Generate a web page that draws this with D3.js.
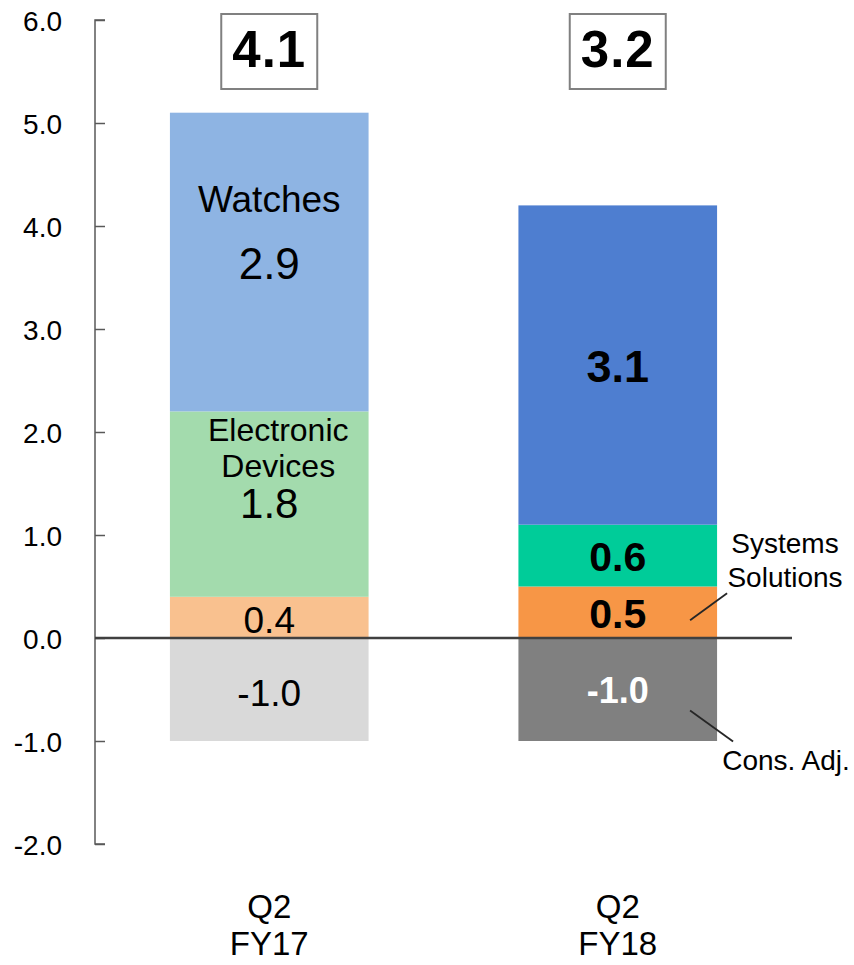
<!DOCTYPE html>
<html>
<head>
<meta charset="utf-8">
<script src="https://cdn.jsdelivr.net/npm/d3@7/dist/d3.min.js"></script>
<style>
  html, body { margin: 0; padding: 0; background: #fff; }
  svg { display: block; font-family: "Liberation Sans", Arial, sans-serif; }
</style>
</head>
<body>
<svg id="chart" width="854" height="965"></svg>
<script>
// Quarters shown on the x axis
const periods = ["Q2 FY17", "Q2 FY18"];
const periodLines = [["Q2", "FY17"], ["Q2", "FY18"]];

// Segment stack order from the bottom up (negative adjustment first)
const segments = ["Cons. Adj.", "Systems Solutions", "Electronic Devices", "Watches"];

// Operating income by segment, per quarter
const fy17Values = [-1.0, 0.4, 1.8, 2.9];
const fy18Values = [-1.0, 0.5, 0.6, 3.1];

// Totals shown in boxes above each bar
const totals = [4.1, 3.2];

// Y axis ticks
const yTicks = [-2, -1, 0, 1, 2, 3, 4, 5, 6];

// Fill colours for each segment, per quarter
const fy17Colors = ["#d9d9d9", "#f9c18f", "#a3dbad", "#8eb4e3"];
const fy18Colors = ["#808080", "#f79646", "#00cc99", "#4e7ed0"];

// One decimal, plain hyphen for negatives
const fmt = v => v.toFixed(1);

const svg = d3.select("#chart");

const y = d3.scaleLinear().domain([-2, 6]).range([844, 20]);
const x = d3.scaleBand().domain(periods).range([95, 792])
  .paddingInner(0.43).paddingOuter(0.215);

// Build stacked rectangles: positives stack upward from zero, negatives downward
function stackOf(values, colors, period, idx) {
  let pos = 0, neg = 0;
  return values.map((v, i) => {
    let y0, y1;
    if (v >= 0) { y0 = pos; y1 = pos + v; pos = y1; }
    else { y1 = neg; y0 = neg + v; neg = y0; }
    return { period, idx, seg: segments[i], i, value: v, y0, y1, color: colors[i] };
  });
}
const stacks = [
  stackOf(fy17Values, fy17Colors, periods[0], 0),
  stackOf(fy18Values, fy18Colors, periods[1], 1)
];
const rects = stacks.flat();

svg.append("g").selectAll("rect").data(rects).join("rect")
  .attr("x", d => x(d.period))
  .attr("width", x.bandwidth())
  .attr("y", d => y(d.y1))
  .attr("height", d => y(d.y0) - y(d.y1))
  .attr("fill", d => d.color);

// Y axis with ticks pointing into the plot
const yAxis = d3.axisRight(y).tickValues(yTicks).tickSize(10).tickFormat(fmt);
const ax = svg.append("g").attr("transform", "translate(95,0)").call(yAxis);
ax.select(".domain").attr("stroke", "#595959").attr("stroke-width", 1.5)
  .attr("d", `M10,${y(6)}H0V${y(-2)}H10`);
ax.selectAll(".tick line").attr("stroke", "#595959").attr("stroke-width", 1.5);
ax.selectAll(".tick text")
  .attr("x", -33).attr("text-anchor", "end")
  .attr("font-size", 28).attr("fill", "#000")
  .attr("font-family", "'Liberation Sans', Arial, sans-serif")
  .attr("dy", "0.36em");

// Zero baseline
svg.append("line")
  .attr("x1", 95).attr("x2", 792)
  .attr("y1", y(0)).attr("y2", y(0))
  .attr("stroke", "#404040").attr("stroke-width", 2.5);

// Value labels at the centre of each segment
const sizes17 = [37, 37, 42, 44];
const sizes18 = [36, 41, 41, 45];
const shift17 = [3, 2, -1, 1];
svg.append("g").selectAll("text").data(rects).join("text")
  .attr("x", d => x(d.period) + x.bandwidth() / 2)
  .attr("y", d => y((d.y0 + d.y1) / 2) + (d.idx === 0 ? shift17[d.i] : 1))
  .attr("dy", "0.36em")
  .attr("text-anchor", "middle")
  .attr("font-size", d => d.idx === 0 ? sizes17[d.i] : sizes18[d.i])
  .attr("font-weight", d => d.idx === 1 ? "bold" : "normal")
  .attr("fill", d => (d.idx === 1 && d.value < 0) ? "#fff" : "#000")
  .text(d => fmt(d.value));

// Segment names inside the FY17 bar
const c17 = x(periods[0]) + x.bandwidth() / 2;
const watches = stacks[0][3], devices = stacks[0][2];
svg.append("text").attr("x", c17).attr("y", y(watches.y1) + 99)
  .attr("text-anchor", "middle").attr("font-size", 37).text("Watches");
svg.append("text").attr("x", c17 + 9).attr("y", y(devices.y1) + 30)
  .attr("text-anchor", "middle").attr("font-size", 32).text("Electronic");
svg.append("text").attr("x", c17 + 9).attr("y", y(devices.y1) + 66)
  .attr("text-anchor", "middle").attr("font-size", 32).text("Devices");

// Callouts for the FY18 bar
const b18 = x(periods[1]) + x.bandwidth();
const ss = stacks[1][1], adj = stacks[1][0];
const ssY = y((ss.y0 + ss.y1) / 2);
svg.append("line").attr("x1", b18 - 27).attr("y1", ssY + 8)
  .attr("x2", b18 + 10).attr("y2", ssY - 19)
  .attr("stroke", "#262626").attr("stroke-width", 1.8);
svg.append("text").attr("x", 785).attr("y", 553)
  .attr("text-anchor", "middle").attr("font-size", 28).text("Systems");
svg.append("text").attr("x", 785).attr("y", 587)
  .attr("text-anchor", "middle").attr("font-size", 28).text("Solutions");
const adjY = y((adj.y0 + adj.y1) / 2);
svg.append("line").attr("x1", b18 - 27).attr("y1", adjY + 21)
  .attr("x2", b18 + 16).attr("y2", adjY + 52)
  .attr("stroke", "#262626").attr("stroke-width", 1.8);
svg.append("text").attr("x", 786).attr("y", 770)
  .attr("text-anchor", "middle").attr("font-size", 28).text("Cons. Adj.");

// Boxed totals above the bars
const tot = svg.append("g").selectAll("g").data(totals).join("g")
  .attr("transform", (d, i) => `translate(${x(periods[i]) + x.bandwidth() / 2},52)`);
tot.append("rect").attr("x", -48).attr("y", -38).attr("width", 96).attr("height", 75)
  .attr("fill", "#fff").attr("stroke", "#808080").attr("stroke-width", 2);
tot.append("text").attr("text-anchor", "middle").attr("y", -3).attr("dy", "0.36em")
  .attr("font-size", 51).attr("font-weight", "bold").attr("letter-spacing", 1)
  .text(d => fmt(d));

// Two-line category labels
const cat = svg.append("g").selectAll("g").data(periods).join("g")
  .attr("transform", d => `translate(${x(d) + x.bandwidth() / 2},0)`);
cat.selectAll("text").data((d, i) => periodLines[i]).join("text")
  .attr("text-anchor", "middle").attr("font-size", 33)
  .attr("y", (d, j) => 918 + j * 37).text(d => d);
</script>
</body>
</html>
